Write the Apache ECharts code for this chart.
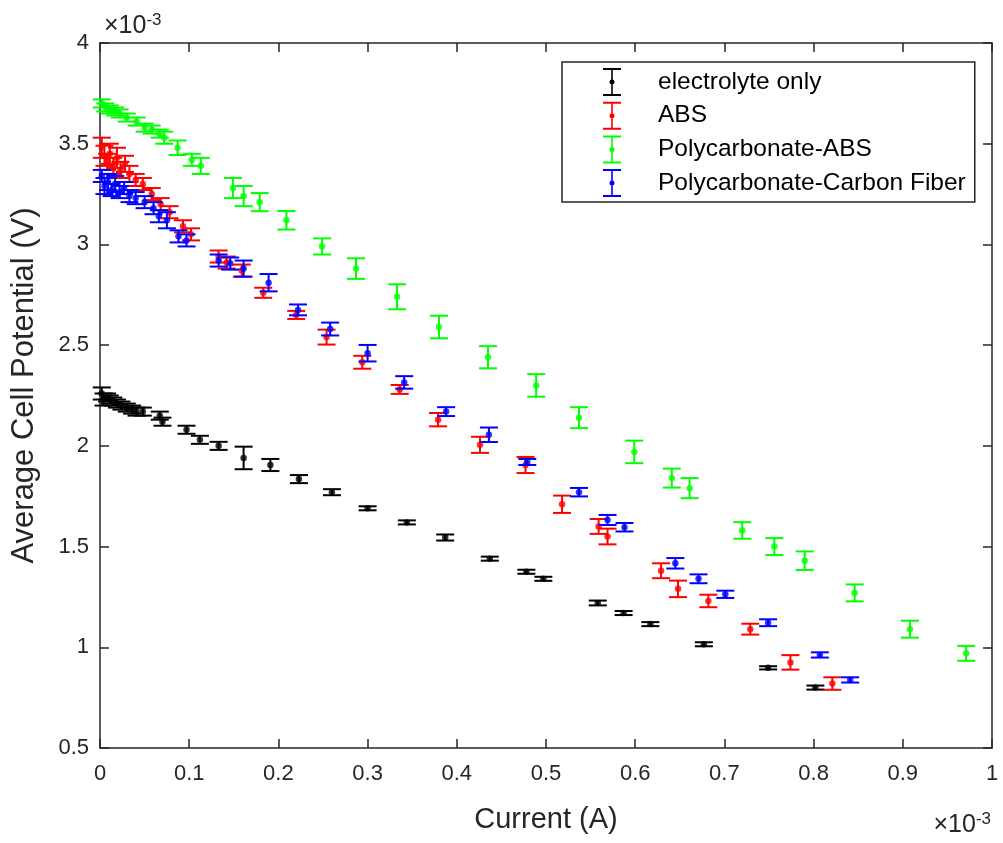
<!DOCTYPE html>
<html>
<head>
<meta charset="utf-8">
<script src="https://cdn.jsdelivr.net/npm/echarts@6/dist/echarts.min.js"></script>
<style>
html,body{margin:0;padding:0;background:#fff;}
#chart{width:1003px;height:843px;}
</style>
</head>
<body>
<div id="chart"></div>
<script>
// Values are in units of 1e-3 (current in A, potential in V): [x, y, error]
const seriesNames = ['electrolyte only', 'ABS', 'Polycarbonate-ABS', 'Polycarbonate-Carbon Fiber'];
const seriesColors = ['#000000', '#ff0000', '#00ff00', '#0000ff'];

const electrolyteOnly = [
  [0.002,2.26,0.03],[0.004,2.23,0.03],[0.008,2.24,0.02],[0.011,2.23,0.02],[0.015,2.22,0.02],
  [0.019,2.21,0.02],[0.024,2.20,0.02],[0.030,2.19,0.02],[0.036,2.18,0.02],[0.041,2.17,0.02],
  [0.048,2.17,0.02],[0.067,2.15,0.02],[0.070,2.12,0.02],[0.097,2.08,0.02],[0.112,2.03,0.02],
  [0.133,2.00,0.02],[0.161,1.94,0.056],[0.191,1.905,0.03],[0.223,1.835,0.02],[0.260,1.77,0.015],
  [0.300,1.69,0.01],[0.344,1.62,0.01],[0.387,1.545,0.015],[0.437,1.44,0.01],[0.478,1.375,0.01],
  [0.497,1.34,0.01],[0.558,1.22,0.012],[0.587,1.17,0.01],[0.617,1.115,0.01],[0.677,1.015,0.01],
  [0.749,0.898,0.008],[0.802,0.80,0.01]
];

const abs = [
  [0.002,3.48,0.05],[0.005,3.44,0.05],[0.008,3.41,0.04],[0.011,3.45,0.05],[0.015,3.39,0.04],
  [0.019,3.43,0.05],[0.023,3.37,0.04],[0.028,3.40,0.04],[0.033,3.35,0.04],[0.040,3.32,0.03],
  [0.048,3.30,0.03],[0.058,3.25,0.03],[0.068,3.20,0.03],[0.078,3.16,0.03],[0.093,3.09,0.03],
  [0.102,3.05,0.03],[0.133,2.94,0.03],[0.142,2.91,0.03],[0.159,2.87,0.03],[0.183,2.76,0.025],
  [0.220,2.65,0.02],[0.254,2.54,0.037],[0.294,2.415,0.032],[0.336,2.28,0.022],[0.379,2.13,0.033],
  [0.426,2.005,0.04],[0.477,1.905,0.04],[0.518,1.71,0.043],[0.559,1.60,0.037],[0.569,1.55,0.039],
  [0.629,1.38,0.037],[0.648,1.29,0.041],[0.682,1.23,0.031],[0.729,1.09,0.027],[0.774,0.925,0.036],
  [0.821,0.82,0.031]
];

const pcAbs = [
  [0.002,3.70,0.02],[0.006,3.68,0.02],[0.011,3.67,0.02],[0.017,3.66,0.02],[0.022,3.65,0.02],
  [0.030,3.63,0.02],[0.041,3.61,0.02],[0.050,3.58,0.02],[0.058,3.57,0.02],[0.067,3.55,0.02],
  [0.072,3.53,0.03],[0.087,3.48,0.036],[0.103,3.42,0.03],[0.113,3.39,0.04],[0.149,3.28,0.05],
  [0.161,3.24,0.05],[0.179,3.21,0.045],[0.209,3.12,0.046],[0.249,2.99,0.04],[0.287,2.88,0.051],
  [0.333,2.74,0.062],[0.380,2.59,0.056],[0.435,2.44,0.055],[0.489,2.30,0.056],[0.537,2.14,0.052],
  [0.599,1.97,0.056],[0.641,1.84,0.047],[0.661,1.79,0.05],[0.720,1.58,0.041],[0.756,1.50,0.042],
  [0.790,1.43,0.046],[0.846,1.27,0.042],[0.908,1.09,0.042],[0.971,0.97,0.037]
];

const pcCarbonFiber = [
  [0.002,3.34,0.03],[0.005,3.29,0.04],[0.009,3.31,0.04],[0.013,3.27,0.03],[0.017,3.30,0.04],
  [0.022,3.26,0.03],[0.027,3.28,0.03],[0.033,3.24,0.03],[0.040,3.23,0.03],[0.050,3.21,0.03],
  [0.060,3.18,0.03],[0.066,3.14,0.03],[0.075,3.12,0.04],[0.088,3.04,0.03],[0.097,3.02,0.03],
  [0.133,2.92,0.03],[0.146,2.905,0.03],[0.161,2.88,0.04],[0.189,2.81,0.043],[0.222,2.675,0.027],
  [0.258,2.58,0.032],[0.300,2.46,0.041],[0.341,2.315,0.031],[0.388,2.17,0.022],[0.436,2.055,0.036],
  [0.479,1.92,0.015],[0.537,1.77,0.021],[0.569,1.632,0.025],[0.588,1.596,0.021],[0.645,1.417,0.026],
  [0.671,1.34,0.022],[0.701,1.263,0.018],[0.749,1.122,0.017],[0.807,0.962,0.013],[0.841,0.838,0.013]
];

const allData = [electrolyteOnly, abs, pcAbs, pcCarbonFiber];
const xAxisTitle = 'Current (A)';
const yAxisTitle = 'Average Cell Potential (V)';

const FONT = "'Liberation Sans', Arial, Helvetica, sans-serif";
const AXC = '#262626';
const iconPath = 'path://M0,0H18V2H0Z M0,26H18V28H0Z M8.2,2H9.8V26H8.2Z M6.5,14A2.5,2.5 0 1,1 11.5,14A2.5,2.5 0 1,1 6.5,14Z';

function makeErrRenderer(color) {
  return function (params, api) {
    const x = api.value(0), y = api.value(1), e = api.value(2);
    const top = api.coord([x, y + e]);
    const bot = api.coord([x, y - e]);
    const hw = 9;
    const style = { stroke: color, lineWidth: 2, fill: null };
    return {
      type: 'group',
      children: [
        { type: 'line', shape: { x1: top[0], y1: top[1], x2: bot[0], y2: bot[1] }, style: style },
        { type: 'line', shape: { x1: top[0] - hw, y1: top[1], x2: top[0] + hw, y2: top[1] }, style: style },
        { type: 'line', shape: { x1: bot[0] - hw, y1: bot[1], x2: bot[0] + hw, y2: bot[1] }, style: style }
      ]
    };
  };
}

const series = [];
allData.forEach(function (d, i) {
  series.push({
    type: 'custom',
    name: seriesNames[i],
    data: d,
    encode: { x: 0, y: 1 },
    itemStyle: { color: seriesColors[i] },
    renderItem: makeErrRenderer(seriesColors[i]),
    silent: true,
    z: 2 + i
  });
  series.push({
    type: 'scatter',
    name: seriesNames[i],
    data: d.map(function (r) { return [r[0], r[1]]; }),
    symbol: 'circle',
    symbolSize: 6.5,
    itemStyle: { color: seriesColors[i] },
    silent: true,
    z: 2 + i
  });
});

const chart = echarts.init(document.getElementById('chart'), null, { renderer: 'canvas' });
function axisCommon() {
  return {
    axisLine: { show: true, onZero: false, lineStyle: { color: AXC, width: 1.5 } },
    axisTick: { show: true, inside: true, length: 9, lineStyle: { color: AXC, width: 1.5 } },
    splitLine: { show: false }
  };
}
chart.setOption({
  animation: false,
  backgroundColor: '#ffffff',
  grid: { left: 100, right: 11, top: 43, bottom: 95, containLabel: false },
  xAxis: [
    Object.assign({
      type: 'value', min: 0, max: 1, interval: 0.1, position: 'bottom',
      name: xAxisTitle, nameLocation: 'middle', nameGap: 57,
      nameTextStyle: { fontFamily: FONT, fontSize: 29, color: AXC },
      axisLabel: { fontFamily: FONT, fontSize: 22, color: AXC, margin: 15,
        formatter: function (v) { return String(Number(v.toFixed(1))); } }
    }, axisCommon()),
    Object.assign({
      type: 'value', min: 0, max: 1, interval: 0.1, position: 'top',
      axisLabel: { show: false }
    }, axisCommon())
  ],
  yAxis: [
    Object.assign({
      type: 'value', min: 0.5, max: 4, interval: 0.5, position: 'left',
      name: yAxisTitle, nameLocation: 'middle', nameGap: 60,
      nameTextStyle: { fontFamily: FONT, fontSize: 31, color: AXC, padding: [0, 0, 0, 20] },
      axisLabel: { fontFamily: FONT, fontSize: 22, color: AXC, margin: 11,
        formatter: function (v) { return String(Number(v.toFixed(1))); } }
    }, axisCommon()),
    Object.assign({
      type: 'value', min: 0.5, max: 4, interval: 0.5, position: 'right',
      axisLabel: { show: false }
    }, axisCommon())
  ],
  legend: {
    orient: 'vertical',
    left: 562, top: 62,
    padding: [6, 9, 5, 41],
    itemWidth: 18, itemHeight: 28, itemGap: 5.7,
    backgroundColor: '#ffffff',
    borderColor: AXC, borderWidth: 1.5,
    selectedMode: false,
    textStyle: { fontFamily: FONT, fontSize: 24.5, lineHeight: 28, color: '#000000', padding: [0, 0, 0, 32] },
    data: seriesNames.map(function (n) { return { name: n, icon: iconPath }; })
  },
  graphic: [
    { type: 'text', left: 104, top: 12, style: {
        rich: { a: { fontFamily: FONT, fontSize: 25, fill: AXC }, b: { fontFamily: FONT, fontSize: 17, fill: AXC, verticalAlign: 'top', padding: [0, 0, 12, 0] } },
        text: '{a|×10}{b|-3}' } },
    { type: 'text', right: 12, top: 811, style: {
        rich: { a: { fontFamily: FONT, fontSize: 25, fill: AXC }, b: { fontFamily: FONT, fontSize: 17, fill: AXC, verticalAlign: 'top', padding: [0, 0, 12, 0] } },
        text: '{a|×10}{b|-3}' } }
  ],
  series: series
});
</script>
</body>
</html>
